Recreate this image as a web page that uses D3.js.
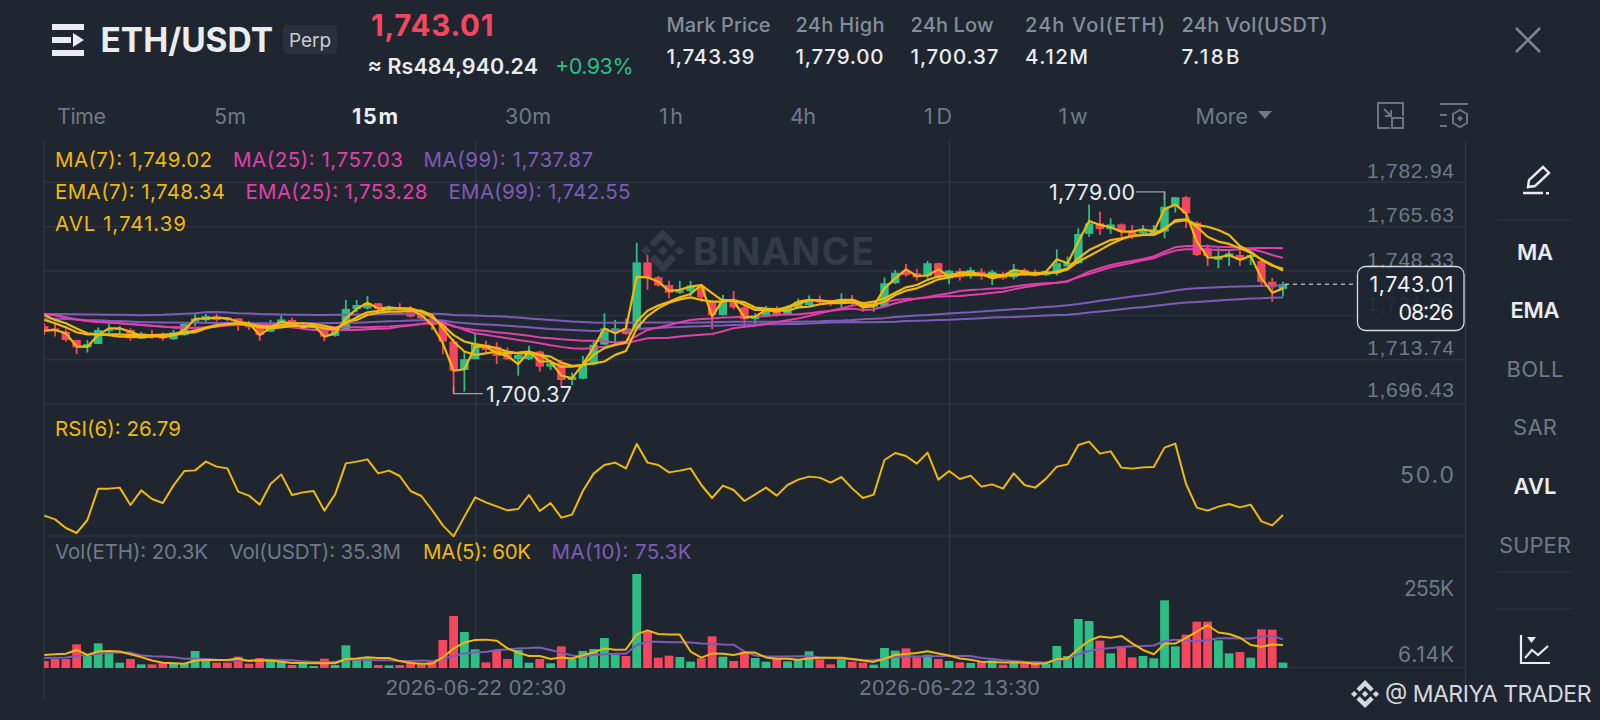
<!DOCTYPE html>
<meta charset="utf-8">
<style type="text/css">
  html, body { margin: 0; padding: 0; background: #1f2630; overflow: hidden; }
  svg { display: block; font-family: Inter, Roboto, sans-serif; }
  .grid line { stroke: #2c333e; stroke-width: 1.5; }
  .grid .domain { display: none; }
  .vgrid line { stroke: #333a46; stroke-width: 1; }
  .vgrid .domain { display: none; }
  .tick-label { fill: #717986; font-size: 21px; }
  .series { fill: none; stroke-linejoin: round; }
</style>
<body>
<script src="https://d3js.org/d3.v7.min.js"></script>
<script>
// --- candles, one value per 15m bar
var open = [1726.7,1725.8,1724.5,1721.3,1718.4,1719.7,1724.8,1725.2,1725.2,1721.9,
1723.6,1723.2,1721.6,1723.2,1728.4,1729.0,1730.4,1730.0,1729.7,1727.8,
1726.5,1724.5,1727.8,1729.1,1726.2,1726.0,1725.4,1722.9,1724.9,1733.4,
1733.6,1735.6,1733.2,1733.9,1733.6,1731.4,1729.7,1726.9,1720.7,1709.6,
1713.8,1719.4,1718.7,1717.0,1713.8,1713.8,1716.8,1710.9,1712.5,1705.7,
1706.2,1711.8,1719.5,1724.2,1725.8,1725.8,1751.5,1745.7,1742.7,1739.7,
1740.3,1742.1,1736.2,1731.0,1737.1,1734.0,1729.4,1730.4,1733.6,1731.3,
1734.0,1734.9,1736.9,1736.9,1736.0,1737.1,1735.8,1734.0,1734.3,1743.4,
1748.2,1747.3,1746.2,1751.2,1745.3,1748.2,1747.0,1747.9,1746.0,1747.0,
1745.7,1748.6,1747.9,1746.5,1747.3,1749.9,1751.2,1762.6,1766.7,1764.4,
1766.3,1763.9,1762.8,1762.8,1763.5,1773.2,1776.9,1767.0,1757.0,1752.5,
1753.5,1754.4,1753.5,1752.1,1744.0,1741.2];

var close = [1725.4,1725.4,1721.3,1718.4,1719.7,1725.2,1725.4,1725.8,1721.9,1723.9,
1722.3,1721.9,1724.3,1727.5,1729.7,1730.6,1729.1,1729.1,1726.9,1726.2,
1723.2,1727.8,1729.3,1726.2,1727.1,1727.3,1722.6,1724.9,1733.4,1734.9,
1735.6,1733.4,1734.3,1732.7,1730.4,1729.7,1727.1,1720.7,1709.3,1713.8,
1719.7,1717.4,1715.1,1713.8,1715.5,1716.4,1710.9,1712.2,1705.7,1707.0,
1711.8,1719.4,1725.8,1725.8,1723.6,1751.5,1745.7,1742.5,1739.7,1740.5,
1742.5,1737.9,1731.0,1736.2,1734.0,1729.4,1730.6,1733.6,1731.0,1734.3,
1736.2,1736.9,1735.9,1735.6,1737.1,1735.6,1734.0,1735.6,1743.4,1747.5,
1746.6,1745.7,1751.2,1745.7,1748.3,1745.7,1748.6,1746.2,1747.9,1745.3,
1748.6,1746.6,1746.4,1747.9,1751.2,1751.4,1762.6,1766.7,1764.5,1766.3,
1763.5,1761.5,1764.4,1764.4,1773.2,1776.9,1770.6,1754.4,1754.0,1753.8,
1755.0,1752.5,1754.4,1743.9,1741.8,1743.01];

var high = [1727.8,1727.8,1725.4,1721.3,1721.3,1726.2,1727.4,1726.7,1725.8,1724.5,
1725.2,1724.2,1725.2,1727.8,1731.4,1731.4,1731.4,1730.1,1729.7,1728.7,
1726.8,1729.1,1730.9,1729.9,1727.8,1727.8,1726.0,1725.4,1736.9,1736.9,
1738.4,1735.6,1734.7,1735.6,1734.5,1732.3,1731.0,1728.4,1721.7,1717.0,
1723.9,1721.0,1720.4,1718.4,1716.1,1719.0,1717.1,1713.5,1713.5,1708.6,
1715.1,1720.7,1731.7,1729.1,1729.7,1759.2,1754.4,1746.2,1744.4,1744.3,
1744.3,1742.5,1736.9,1738.8,1740.4,1734.5,1731.7,1734.5,1734.5,1734.9,
1737.4,1738.6,1738.6,1736.9,1739.5,1738.8,1736.2,1736.2,1745.6,1748.6,
1750.9,1749.0,1752.1,1751.4,1748.6,1749.2,1749.6,1749.2,1748.6,1747.9,
1750.9,1749.2,1748.8,1748.2,1756.6,1753.8,1764.8,1774.1,1771.3,1768.7,
1766.7,1766.1,1766.1,1766.1,1779.0,1776.9,1777.4,1767.4,1758.6,1757.0,
1756.7,1756.3,1755.3,1752.7,1745.4,1744.0];

var low = [1723.2,1722.6,1720.6,1715.8,1716.4,1719.7,1723.2,1723.9,1721.0,1721.8,
1721.7,1721.0,1721.3,1722.9,1726.7,1728.4,1728.4,1728.4,1724.9,1725.2,
1721.0,1724.4,1726.8,1725.8,1725.6,1725.7,1720.8,1722.6,1724.7,1732.1,
1733.2,1732.7,1732.3,1731.7,1730.1,1729.1,1725.2,1715.8,1700.37,1701.2,
1713.8,1715.9,1711.9,1713.5,1707.4,1713.5,1709.0,1709.6,1703.5,1703.8,
1706.1,1711.4,1719.4,1719.6,1723.3,1725.6,1740.8,1742.1,1737.5,1739.2,
1738.4,1736.2,1725.5,1730.8,1733.2,1726.1,1726.8,1730.1,1730.4,1731.0,
1733.6,1734.7,1734.9,1734.5,1733.2,1734.5,1732.3,1732.3,1734.0,1743.1,
1746.0,1744.4,1745.3,1745.3,1743.0,1744.4,1745.1,1744.7,1742.7,1744.7,
1744.9,1746.2,1746.0,1746.2,1746.4,1749.9,1750.9,1761.5,1762.2,1762.6,
1761.5,1760.6,1762.2,1761.8,1760.9,1770.9,1764.8,1754.0,1750.2,1749.2,
1750.1,1750.2,1750.5,1742.7,1736.2,1738.2];

// --- price overlays
var avl = [1724.9,1725.2,1723.9,1718.7,1718.7,1723.2,1725.8,1725.8,1724.5,1722.9,
1723.2,1722.3,1723.2,1725.2,1729.5,1729.7,1730.0,1729.7,1728.4,1727.8,
1723.2,1726.2,1728.4,1727.8,1726.2,1727.1,1722.6,1723.9,1729.7,1733.4,
1735.8,1733.6,1733.9,1733.6,1733.2,1731.0,1727.1,1720.0,1709.3,1709.9,
1718.7,1718.7,1716.1,1715.1,1711.9,1716.8,1712.9,1712.9,1707.4,1706.4,
1711.9,1718.4,1725.8,1723.9,1725.8,1745.9,1745.7,1744.0,1740.4,1740.8,
1742.1,1742.7,1730.4,1736.9,1736.5,1730.1,1730.4,1733.0,1732.3,1734.0,
1736.2,1736.9,1736.5,1736.0,1736.2,1736.9,1734.0,1734.5,1741.4,1745.3,
1748.8,1746.2,1746.4,1748.8,1746.0,1747.5,1747.7,1746.9,1745.3,1746.2,
1748.6,1747.9,1747.0,1747.9,1752.7,1751.2,1759.6,1767.6,1766.1,1765.2,
1763.5,1763.5,1764.4,1763.5,1772.2,1774.1,1770.6,1759.6,1753.5,1753.4,
1754.4,1752.5,1754.0,1745.3,1739.7,1741.39];

var ema7 = [1729.1,1727.8,1726.2,1724.3,1723.5,1723.5,1723.5,1723.5,1723.2,1723.2,
1723.2,1723.4,1723.6,1724.2,1724.9,1726.1,1727.1,1727.5,1727.8,1727.5,
1726.8,1726.5,1727.1,1727.8,1727.8,1727.5,1726.8,1725.8,1727.8,1730.1,
1732.1,1732.6,1733.4,1733.6,1733.6,1732.3,1730.1,1727.1,1723.2,1720.7,
1719.7,1719.0,1718.1,1716.8,1716.1,1716.1,1715.5,1714.8,1712.5,1711.2,
1711.4,1715.5,1718.1,1719.4,1720.3,1728.4,1732.7,1734.7,1736.2,1737.9,
1739.2,1742.7,1739.5,1736.5,1736.5,1736.0,1733.9,1733.5,1733.2,1734.0,
1735.2,1736.9,1736.7,1736.2,1736.9,1736.9,1735.6,1736.2,1737.5,1739.7,
1741.8,1742.7,1744.7,1746.0,1746.6,1747.3,1747.0,1746.6,1746.9,1746.6,
1747.0,1747.4,1747.3,1747.3,1747.9,1749.2,1753.1,1756.3,1758.3,1760.2,
1760.9,1761.8,1762.2,1762.6,1764.8,1767.4,1768.0,1765.4,1761.5,1759.6,
1758.7,1757.0,1755.3,1752.7,1750.5,1748.34];

var ma7 = [1731.0,1729.1,1727.8,1725.8,1723.9,1723.5,1723.2,1722.6,1722.6,1722.3,
1722.6,1723.0,1723.2,1723.9,1724.3,1725.8,1726.8,1727.5,1727.7,1727.1,
1726.2,1725.8,1726.2,1726.8,1726.8,1726.5,1725.8,1725.4,1728.4,1729.1,
1731.0,1731.9,1732.3,1732.3,1732.6,1732.7,1731.0,1725.8,1720.7,1716.8,
1715.5,1716.1,1716.8,1716.1,1716.4,1716.8,1715.5,1712.9,1710.9,1710.9,
1711.6,1712.2,1712.9,1715.5,1717.0,1725.8,1730.6,1733.6,1735.8,1737.1,
1737.9,1736.9,1736.2,1736.2,1736.9,1734.9,1733.0,1733.0,1732.7,1732.7,
1734.0,1734.3,1735.2,1735.6,1735.6,1735.9,1734.9,1734.9,1736.2,1738.8,
1740.5,1741.4,1743.1,1744.9,1745.7,1746.5,1746.6,1746.5,1746.2,1746.2,
1746.5,1746.9,1746.7,1747.3,1747.5,1748.8,1751.8,1754.0,1756.3,1758.7,
1760.5,1761.8,1762.2,1762.2,1764.1,1768.0,1768.3,1766.1,1765.4,1764.1,
1762.2,1757.9,1755.7,1752.5,1750.2,1749.02];

var ma25 = [1731.4,1730.9,1730.1,1729.3,1728.7,1728.4,1728.2,1727.8,1727.5,1727.1,
1726.8,1726.4,1726.2,1726.2,1726.1,1726.2,1726.5,1726.9,1727.1,1727.3,
1727.3,1727.1,1727.0,1726.9,1726.8,1726.6,1726.5,1726.2,1726.2,1726.2,
1726.2,1726.4,1726.5,1726.8,1727.1,1727.5,1727.8,1727.8,1726.8,1725.2,
1723.9,1723.3,1722.6,1722.0,1721.3,1720.7,1720.0,1719.2,1718.6,1718.1,
1717.9,1718.2,1718.7,1719.4,1720.0,1721.0,1722.0,1722.1,1722.2,1722.6,
1723.0,1723.3,1723.6,1724.7,1725.9,1726.4,1726.8,1727.5,1728.2,1729.0,
1729.7,1730.6,1731.7,1732.7,1733.6,1734.6,1735.3,1735.6,1736.1,1736.9,
1737.3,1737.4,1737.8,1738.2,1738.3,1738.4,1738.8,1739.2,1739.7,1740.1,
1741.0,1741.8,1742.5,1743.1,1743.6,1744.3,1745.7,1747.0,1748.3,1749.6,
1750.5,1751.4,1752.3,1753.1,1754.8,1756.1,1756.6,1756.6,1756.5,1756.3,
1756.3,1756.6,1757.0,1757.1,1757.1,1757.03];

var ema25 = [1731.4,1730.9,1730.1,1729.3,1728.7,1728.3,1728.0,1727.8,1727.4,1727.1,
1726.8,1726.5,1726.1,1726.1,1725.8,1726.1,1726.5,1727.0,1727.3,1727.1,
1727.1,1726.8,1726.8,1726.2,1725.7,1725.2,1725.2,1725.2,1725.2,1725.2,
1725.5,1725.7,1725.8,1726.5,1726.9,1727.5,1728.4,1728.4,1726.5,1725.8,
1725.2,1724.8,1724.3,1723.9,1723.4,1722.9,1722.3,1722.0,1721.6,1721.3,
1721.0,1721.0,1720.8,1720.3,1720.7,1722.9,1725.2,1726.2,1727.1,1728.2,
1729.1,1729.5,1729.7,1730.0,1730.1,1730.3,1730.4,1730.6,1731.0,1731.2,
1731.3,1731.7,1732.3,1732.7,1733.2,1733.5,1733.0,1733.2,1734.3,1735.6,
1736.6,1737.4,1738.0,1738.8,1739.5,1740.4,1740.8,1741.0,1741.3,1741.4,
1742.1,1742.7,1743.1,1743.4,1743.6,1744.0,1746.0,1747.9,1749.2,1750.5,
1751.4,1752.1,1752.8,1753.8,1755.7,1757.4,1757.9,1757.9,1757.8,1757.6,
1757.5,1757.3,1756.7,1755.7,1754.4,1753.28];

var ma99 = [1729.7,1729.6,1729.5,1729.3,1729.1,1729.0,1728.8,1728.7,1728.5,1728.2,
1728.2,1728.1,1728.1,1728.0,1728.0,1728.0,1727.9,1727.9,1727.9,1727.9,
1727.8,1727.8,1727.8,1727.8,1727.8,1727.8,1727.8,1727.9,1728.0,1728.0,
1728.2,1728.4,1728.6,1728.7,1728.9,1729.0,1729.1,1728.9,1728.2,1727.9,
1727.5,1727.3,1727.1,1726.8,1726.5,1726.2,1725.9,1725.6,1725.4,1725.2,
1725.0,1724.8,1724.9,1725.0,1725.2,1725.5,1725.9,1726.0,1726.2,1726.3,
1726.5,1726.6,1726.8,1726.9,1727.1,1727.2,1727.3,1727.4,1727.4,1727.5,
1727.5,1727.7,1727.9,1728.1,1728.2,1728.3,1728.2,1728.2,1728.3,1728.4,
1728.7,1728.8,1728.9,1729.1,1729.2,1729.4,1729.6,1729.8,1730.0,1730.1,
1730.2,1730.4,1730.6,1730.8,1731.0,1731.1,1731.5,1732.0,1732.4,1732.8,
1733.3,1733.7,1734.0,1734.5,1735.0,1735.5,1735.9,1736.1,1736.4,1736.7,
1737.0,1737.2,1737.4,1737.5,1737.7,1737.87];

var ema99 = [1731.4,1731.4,1731.3,1731.3,1731.2,1731.2,1731.1,1731.1,1731.0,1730.9,
1731.0,1731.1,1731.3,1731.5,1731.7,1732.1,1732.2,1732.0,1731.7,1731.6,
1731.4,1731.3,1731.2,1731.1,1731.1,1731.0,1731.0,1731.1,1731.1,1731.2,
1731.2,1731.3,1731.4,1731.4,1731.5,1731.5,1731.5,1731.4,1731.0,1730.9,
1730.8,1730.6,1730.5,1730.3,1730.0,1729.7,1729.4,1729.1,1728.8,1728.5,
1728.3,1728.1,1728.0,1728.0,1728.0,1728.1,1728.1,1728.1,1728.1,1728.0,
1728.0,1728.1,1728.2,1728.3,1728.4,1728.4,1728.4,1728.4,1728.4,1728.4,
1728.4,1728.5,1728.6,1728.8,1728.9,1729.1,1729.4,1729.6,1729.8,1730.2,
1730.5,1730.8,1731.0,1731.3,1731.6,1731.9,1732.1,1732.4,1732.7,1733.0,
1733.3,1733.5,1733.8,1734.1,1734.4,1734.8,1735.3,1735.9,1736.6,1737.1,
1737.6,1738.2,1738.7,1739.2,1739.9,1740.6,1741.1,1741.4,1741.6,1741.8,
1742.0,1742.1,1742.2,1742.3,1742.4,1742.55];

// --- RSI(6)
var rsi = [26.3,23.3,16.4,12.4,22.8,47.9,47.9,48.7,34.8,46.5,
39.6,36.4,50.5,62.0,62.5,69.5,65.5,64.1,45.5,42.3,
35.1,51.6,59.3,42.8,44.9,46.0,30.3,43.3,68.1,69.5,
71.3,60.1,62.3,58.0,46.0,42.0,30.8,18.5,9.7,25.5,
40.9,36.9,33.7,30.5,31.6,42.8,30.0,36.4,24.7,27.1,
46.0,59.9,66.8,68.7,64.1,83.6,68.7,66.8,60.9,62.3,
64.1,50.8,40.4,50.3,46.8,38.0,43.3,48.7,42.3,50.8,
55.1,57.5,56.7,52.7,57.2,48.1,40.4,43.1,70.8,76.4,
74.0,67.9,76.7,55.1,62.0,55.6,58.3,49.5,51.3,47.9,
60.1,50.8,48.7,55.9,65.5,67.3,82.8,85.5,75.9,77.7,
64.7,63.9,64.9,65.2,80.7,83.9,51.6,32.7,30.3,33.5,
35.6,32.9,35.1,21.7,18.5,26.79];

// --- volume, in thousands
var volume = [26.4,33.9,33.9,89.2,45.3,93.0,55.3,20.1,33.9,13.8,
13.8,17.6,17.6,17.6,64.1,26.4,20.1,20.1,42.7,16.3,
37.7,26.4,26.4,11.3,16.3,7.5,35.2,11.3,85.5,30.2,
40.2,11.3,10.1,11.3,23.9,13.8,23.9,105.6,196.1,135.8,
70.4,21.4,67.9,33.9,67.9,20.1,33.9,17.6,81.7,33.9,
64.1,71.6,113.1,50.3,45.3,354.5,139.5,39.0,46.5,41.5,
23.9,36.5,119.4,42.7,26.4,61.6,37.7,23.9,33.9,25.1,
33.9,62.9,32.7,13.8,35.2,23.9,20.1,12.6,75.4,65.4,
74.2,40.2,50.3,33.9,26.4,21.4,18.9,22.6,28.9,12.6,
27.7,16.3,18.9,16.3,83.0,45.3,184.8,177.2,103.1,55.3,
83.0,40.2,45.3,36.5,255.2,81.7,125.7,174.7,174.7,104.3,
55.3,60.3,39.0,145.8,144.6,20.3];

var volMa5 = [49,52,54,68,49,62,64,62,52,41,28,20,18,16,28,30,30,30,36,26,
29,28,24,19,19,18,18,18,34,36,41,38,38,26,19,16,16,40,74,96,
106,107,103,74,58,45,45,34,40,36,48,59,74,69,70,127,142,128,126,126,
62,39,55,54,49,58,58,40,35,35,31,36,39,39,39,34,28,23,35,49,
53,57,63,55,47,36,31,24,23,21,21,20,16,18,33,36,72,103,119,114,
121,93,68,52,91,92,114,137,162,134,128,114,87,80,89,87];

var volMa10 = [38,39,40,45,49,54,58,58,58,47,44,43,41,35,35,34,31,29,26,29,
31,31,30,29,25,23,23,23,31,31,30,29,29,26,26,28,26,35,45,55,
59,60,68,70,74,75,77,68,58,47,44,49,52,54,54,87,99,99,97,97,
96,92,91,89,88,62,47,44,43,43,44,45,40,38,36,33,30,29,35,41,
44,43,44,44,45,45,45,38,34,29,26,24,23,21,30,34,52,64,72,75,
79,82,83,85,102,107,104,101,106,112,112,111,111,119,121,108];

// --- axes
var priceTicks = [1782.94,1765.63,1748.33,1731.04,1713.74,1696.43];
var rsiTicks = [50];
var volTicks = [255,6.14];
var volTickLabels = ["255K","6.14K"];
var timeTickBars = [40,84];
var timeTickLabels = ["2026-06-22 02:30","2026-06-22 13:30"];

// --- header / legend text
var timeframes = ["Time","5m","15m","30m","1h","4h","1D","1w"];
var timeframeX = [57,230,375,528,671,803,938,1073];
var timeframeW = [49,32,46,46,24,26,28,29];
var statNames = ["Mark Price","24h High","24h Low","24h Vol(ETH)","24h Vol(USDT)"];
var statValues = ["1,743.39","1,779.00","1,700.37","4.12M","7.18B"];
var statX = [666.5,795.5,910.5,1025,1181.5];
var statNameW = [104,89,83,140,146];
var statValueW = [88,88,88,63,58];
var indicators = ["MA","EMA","BOLL","SAR","AVL","SUPER"];
var indicatorOn = [true,true,false,false,true,false];
var indicatorY = [252,310,369,427,486,545];
var indicatorW = [36,49,57,44,43,72];

var width = 1600, height = 720;
var bg = "#1f2630", yellow = "#f0b90b", pink = "#e13fa9", purple = "#7f5bb8",
    green = "#2ebd85", red = "#f6465d", grey = "#848d9b";
var logoPath = "M38.73 53.2l24.59-24.58 24.6 24.6 14.3-14.31L63.32 0 24.42 38.9z M0 63.31l14.3-14.31 14.31 14.31-14.31 14.3z M38.73 73.41l24.59 24.59 24.6-24.6 14.31 14.29-38.9 38.91-38.91-38.88-.02-.02z M98 63.31l14.3-14.31 14.31 14.31-14.31 14.3z M77.83 63.3L63.32 48.78 52.59 59.51l-1.24 1.23-2.54 2.54 14.51 14.5 14.51-14.47z";

var left = 44, right = 1465.5;

// bar index to pixel
var x = d3.scaleLinear().domain([0, 115]).range([44.3, 1283]);
// two known price ticks set the price scale
var y = d3.scaleLinear().domain([1782.94, 1696.43]).range([181.7, 403.8]);
var yRsi = d3.scaleLinear().domain([0, 100]).range([548.5, 423.5]);
var yVol = d3.scaleLinear().domain([0, 354.5]).range([668, 574]);

var svg = d3.select("body").append("svg")
    .attr("width", width)
    .attr("height", height);

svg.append("rect").attr("width", width).attr("height", height).attr("fill", bg);

// w stretches the letter spacing to the width seen in the picture
function label(t, px, py, size, color, weight, anchor, w) {
    var el = svg.append("text")
        .attr("x", px)
        .attr("y", py)
        .attr("dy", "0.36em")
        .attr("font-size", size)
        .attr("font-weight", weight || 400)
        .attr("text-anchor", anchor || "start")
        .attr("fill", color)
        .text(t);
    if (w) el.attr("textLength", w).attr("lengthAdjust", "spacing");
    return el;
}

// frame lines
svg.append("line").attr("x1", left).attr("x2", left).attr("y1", 140).attr("y2", 700)
    .attr("stroke", "#333a46");
svg.append("line").attr("x1", right).attr("x2", right).attr("y1", 140).attr("y2", 700)
    .attr("stroke", "#333a46");

// price grid and labels
var priceAxis = d3.axisRight(y).tickValues(priceTicks).tickSize(right - left)
    .tickFormat(d3.format(",.2f"));
svg.append("g").attr("class", "grid")
    .attr("transform", "translate(" + left + ",0)")
    .call(priceAxis)
    .selectAll("text")
    .attr("class", "tick-label")
    .attr("x", 1454 - left)
    .attr("dy", function(d) { return d == 1696.43 ? "-0.36em" : "-0.21em"; })
    .attr("text-anchor", "end")
    .attr("textLength", 87)
    .attr("lengthAdjust", "spacing");

// panel separators
var panelLines = [536, 667.5];
svg.selectAll(".panel-line").data(panelLines).enter().append("line")
    .attr("x1", left).attr("x2", right)
    .attr("y1", function(d) { return d; }).attr("y2", function(d) { return d; })
    .attr("stroke", "#2c333e").attr("stroke-width", 1.5);

// time grid and labels
var timeAxis = d3.axisBottom(x).tickValues(timeTickBars).tickSize(-(668 - 140))
    .tickFormat(function(d, i) { return timeTickLabels[i]; });
svg.append("g").attr("class", "vgrid")
    .attr("transform", "translate(0,668)")
    .call(timeAxis)
    .selectAll("text")
    .attr("class", "tick-label")
    .attr("y", 19)
    .attr("dy", "0.36em")
    .attr("textLength", 180)
    .attr("lengthAdjust", "spacing")
    .style("font-size", "21.5px");

// right axis for RSI and volume
svg.append("g").selectAll("text").data(rsiTicks).enter().append("text")
    .attr("class", "tick-label")
    .attr("x", 1454).attr("text-anchor", "end")
    .attr("y", function(d) { return yRsi(d) - 11; }).attr("dy", "0.36em")
    .attr("textLength", 54).attr("lengthAdjust", "spacing")
    .style("font-size", "23px")
    .text(function(d) { return d3.format(".1f")(d); });
svg.append("g").selectAll("text").data(volTicks).enter().append("text")
    .attr("class", "tick-label")
    .attr("x", 1454).attr("text-anchor", "end")
    .attr("y", function(d) { return yVol(d) - 12; }).attr("dy", "0.36em")
    .attr("textLength", function(d) { return d == 255 ? 50 : 56; }).attr("lengthAdjust", "spacing")
    .text(function(d, i) { return volTickLabels[i]; });

// watermark
svg.append("path").attr("d", logoPath).attr("fill", "#343b47")
    .attr("transform", "translate(641,229) scale(0.345)");
label("BINANCE", 693, 251.5, 38, "#343b47", 700, "start", 181);

// clip so the first bar is cut by the left axis
svg.append("clipPath").attr("id", "plot").append("rect")
    .attr("x", left).attr("y", 140).attr("width", right - left).attr("height", 530);
var plot = svg.append("g").attr("clip-path", "url(#plot)");

var bars = d3.range(open.length);
function barColor(i) { return close[i] >= open[i] ? green : red; }

// volume
plot.append("g").selectAll("rect").data(bars).enter().append("rect")
    .attr("x", function(i) { return x(i) - 4.4; })
    .attr("width", 8.8)
    .attr("y", function(i) { return yVol(volume[i]); })
    .attr("height", function(i) { return yVol(0) - yVol(volume[i]); })
    .attr("fill", barColor);

// candles
plot.append("g").selectAll("line").data(bars).enter().append("line")
    .attr("x1", function(i) { return x(i); })
    .attr("x2", function(i) { return x(i); })
    .attr("y1", function(i) { return y(high[i]); })
    .attr("y2", function(i) { return y(low[i]); })
    .attr("stroke", barColor)
    .attr("stroke-width", 1.8);
plot.append("g").selectAll("rect").data(bars).enter().append("rect")
    .attr("x", function(i) { return x(i) - 4.2; })
    .attr("width", 8.4)
    .attr("y", function(i) { return y(Math.max(open[i], close[i])); })
    .attr("height", function(i) { return Math.max(1.5, Math.abs(y(open[i]) - y(close[i]))); })
    .attr("fill", barColor);

function drawLine(values, scale, color, w) {
    var gen = d3.line()
        .x(function(d, i) { return x(i); })
        .y(function(d) { return scale(d); });
    plot.append("path").attr("class", "series")
        .attr("d", gen(values))
        .attr("stroke", color)
        .attr("stroke-width", w);
}

drawLine(ma99, y, purple, 2);
drawLine(ema99, y, purple, 2);
drawLine(ma25, y, pink, 2);
drawLine(ema25, y, pink, 2);
drawLine(avl, y, yellow, 2.2);
drawLine(ma7, y, yellow, 2.2);
drawLine(ema7, y, yellow, 2.2);

drawLine(volMa10, yVol, purple, 2);
drawLine(volMa5, yVol, yellow, 2);

// RSI panel
drawLine(rsi, yRsi, yellow, 2);

// high / low markers
var hiBar = 104, loBar = 38;
svg.append("path").attr("fill", "none").attr("stroke", "#9aa1ac").attr("stroke-width", 1.3)
    .attr("d", "M1136," + y(high[hiBar]) + "H" + x(hiBar) + "V" + (y(high[hiBar]) + 8));
label("1,779.00", 1135, y(high[hiBar]) + 0.5, 21.5, "#eaecef", 400, "end", 86);
svg.append("path").attr("fill", "none").attr("stroke", "#9aa1ac").attr("stroke-width", 1.3)
    .attr("d", "M" + x(loBar) + "," + (y(low[loBar]) - 8) + "V" + y(low[loBar]) + "H483");
label("1,700.37", 486, y(low[loBar]) + 1, 21.5, "#eaecef", 400, "start", 86);

// last price line and tag
var lastY = y(close[close.length - 1]);
svg.append("line").attr("x1", x(115) + 2).attr("x2", 1357).attr("y1", lastY).attr("y2", lastY)
    .attr("stroke", "#eaecef").attr("stroke-dasharray", "4 4");
svg.append("rect").attr("x", 1357.5).attr("y", 266.5).attr("width", 106.5).attr("height", 64)
    .attr("rx", 8).attr("fill", "#1f2630").attr("fill-opacity", 0.88)
    .attr("stroke", "#d8dbe0").attr("stroke-width", 1.3);
label("1,743.01", 1453.5, 284, 21.5, "#f2f3f5", 400, "end", 84);
label("08:26", 1453.5, 312, 21.5, "#f2f3f5", 400, "end", 55);

// legends
var legendRows = [
  [55, 159.7, "MA(7): 1,749.02", yellow, 157], [233, 159.7, "MA(25): 1,757.03", pink, 170], [423.5, 159.7, "MA(99): 1,737.87", purple, 169.5],
  [55, 191.7, "EMA(7): 1,748.34", yellow, 170], [245.5, 191.7, "EMA(25): 1,753.28", pink, 182], [448.5, 191.7, "EMA(99): 1,742.55", purple, 182],
  [55, 223.3, "AVL 1,741.39", yellow, 131],
  [55, 429, "RSI(6): 26.79", yellow, 126],
  [55, 552, "Vol(ETH): 20.3K", "#717986", 153], [229.5, 552, "Vol(USDT): 35.3M", "#717986", 171.5],
  [423, 552, "MA(5): 60K", yellow, 108], [551.5, 552, "MA(10): 75.3K", purple, 140]
];
legendRows.forEach(function(r) { label(r[2], r[0], r[1], 20.5, r[3], 400, "start", r[4]); });

// header
svg.append("path").attr("fill", "#eaecef")
    .attr("d", "M52,24h32v6h-32z M52,37h19v6h-19z M73,33l11,7l-11,7z M52,50h32v6h-32z");
label("ETH/USDT", 100.5, 40, 33.5, "#eaecef", 700, "start", 172.5);
svg.append("rect").attr("x", 283).attr("y", 25).attr("width", 54).attr("height", 29).attr("rx", 4).attr("fill", "#2a303b");
label("Perp", 310, 40, 19, "#c9ccd2", 400, "middle");
label("1,743.01", 371, 25, 29.5, red, 700, "start", 122.5);
label("≈ Rs484,940.24", 367.5, 66, 21.5, "#eaecef", 600, "start", 170.5);
label("+0.93%", 555, 66, 21.5, green, 400, "start", 78.5);

statNames.forEach(function(n, i) {
    label(n, statX[i], 25, 20, grey, 500, "start", statNameW[i]);
    label(statValues[i], statX[i], 56.5, 20.5, "#eaecef", 500, "start", statValueW[i]);
});

// close icon
svg.append("path").attr("fill", "none").attr("stroke", "#7d8592").attr("stroke-width", 2.6)
    .attr("d", "M1516,28L1540,52M1540,28L1516,52");

// timeframe tabs
timeframes.forEach(function(t, i) {
    label(t, timeframeX[i], 116, 21.5, t == "15m" ? "#eaecef" : "#717986",
        t == "15m" ? 700 : 400, i == 0 ? "start" : "middle", timeframeW[i]);
});
label("More", 1195.5, 116, 21.5, "#717986", 400, "start", 52.5);
svg.append("path").attr("fill", "#717986").attr("d", "M1258,111h14l-7,8z");

// toolbar icons
svg.append("path").attr("fill", "none").attr("stroke", "#6c7482").attr("stroke-width", 2)
    .attr("d", "M1390,128H1378V103H1403V116 M1384,109L1391,116 M1391,110V116H1385 M1392,118h11v10h-11z");
svg.append("path").attr("fill", "none").attr("stroke", "#6c7482").attr("stroke-width", 2)
    .attr("d", "M1440,104H1468 M1440,115H1447 M1440,126H1447 M1460,110L1467,114V123L1460,127L1453,123V114z");
svg.append("path").attr("fill", "#6c7482").attr("d", "M1460,115.5l3,3l-3,3l-3,-3z");

// right tool column
svg.append("path").attr("fill", "none").attr("stroke", "#eaecef").attr("stroke-width", 2.4)
    .attr("d", "M1528,187L1529,180L1543,167L1549,173L1535,186z M1523,193H1543");
svg.append("rect").attr("x", 1546).attr("y", 192).attr("width", 3).attr("height", 2.5).attr("fill", "#eaecef");
[220, 572, 609].forEach(function(d) {
    svg.append("line").attr("x1", 1498).attr("x2", 1572).attr("y1", d).attr("y2", d).attr("stroke", "#2f3641");
});
indicators.forEach(function(n, i) {
    label(n, 1535, indicatorY[i], 22, indicatorOn[i] ? "#eaecef" : "#717986",
        indicatorOn[i] ? 600 : 400, "middle", indicatorW[i]);
});
svg.append("path").attr("fill", "none").attr("stroke", "#eaecef").attr("stroke-width", 2.2)
    .attr("d", "M1521,635V663H1550 M1525,658L1532,650L1538,655L1548,646");
svg.append("path").attr("fill", "#eaecef").attr("d", "M1527,637h9l-4.5,6z");

// credit
svg.append("path").attr("d", logoPath).attr("fill", "#d5d8dd")
    .attr("transform", "translate(1351,680) scale(0.222)");
label("@ MARIYA TRADER", 1385, 694, 23, "#d5d8dd", 400, "start", 206.5);
</script>
</body>
